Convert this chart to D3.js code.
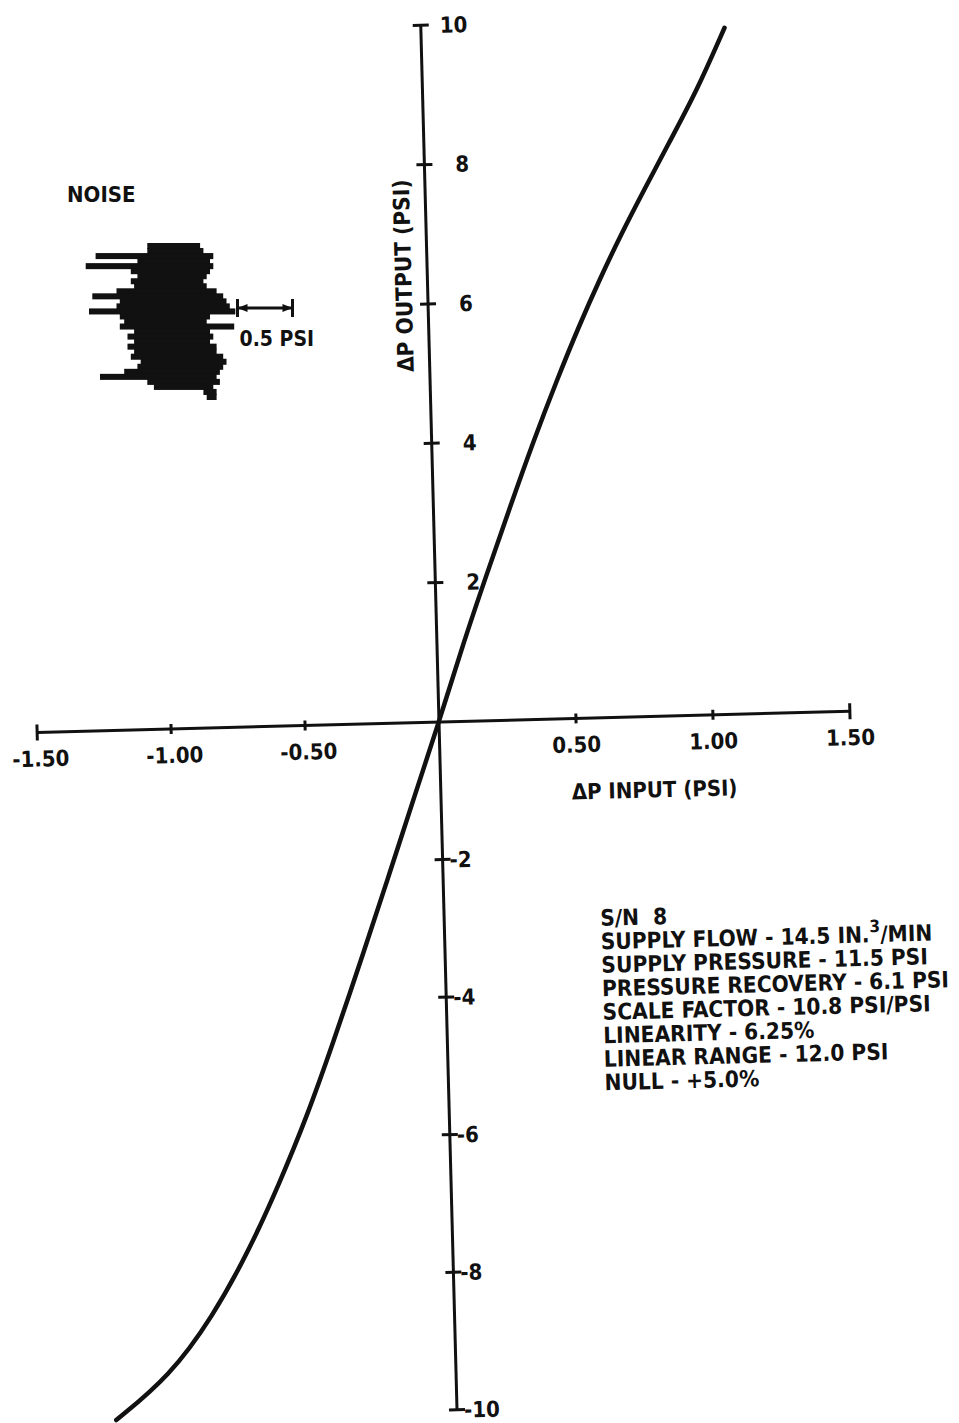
<!DOCTYPE html>
<html>
<head>
<meta charset="utf-8">
<script src="https://cdn.jsdelivr.net/npm/d3@7"></script>
<style>
body{margin:0;background:#fff;}
svg text{font-family:"DejaVu Sans Condensed","DejaVu Sans",sans-serif;font-weight:bold;font-stretch:condensed;fill:#111;white-space:pre;}
</style>
</head>
<body>
<svg id="chart" width="959" height="1423"></svg>
<script>
// axis ticks
var xTicks = [-1.5, -1.0, -0.5, 0.5, 1.0, 1.5];
var yTicks = [10, 8, 6, 4, 2, -2, -4, -6, -8, -10];

// transfer curve (PSI)
var inputPsi  = [-1.272, -1.070, -0.903, -0.759, -0.640, -0.532, -0.430, -0.300, -0.200, -0.100, 0,
                 0.096, 0.190, 0.280, 0.370, 0.465, 0.550, 0.630, 0.710, 0.800, 0.900, 1.000, 1.108];
var outputPsi = [-10.02, -9.41, -8.56, -7.60, -6.64, -5.69, -4.66, -3.28, -2.19, -1.08, 0,
                 1.12, 2.12, 3.06, 3.98, 4.88, 5.64, 6.30, 6.92, 7.56, 8.26, 8.95, 9.85];

// noise trace: low / high excursion of each sweep (PSI)
var noiseLow  = [-0.27,-0.27,-0.74,-0.36,-0.83,-0.42,-0.36,-0.42,-0.39,-0.55,-0.77,-0.52,-0.55,-0.80,-0.52,-0.48,
                 -0.52,-0.39,-0.45,-0.39,-0.45,-0.39,-0.42,-0.33,-0.36,-0.48,-0.70,-0.27,-0.21,0.24,0.27];
var noiseHigh = [0.21,0.24,0.33,0.30,0.33,0.30,0.27,0.24,0.27,0.36,0.42,0.45,0.48,0.53,0.30,0.27,
                 0.52,0.30,0.33,0.30,0.36,0.36,0.42,0.45,0.42,0.39,0.36,0.39,0.33,0.36,0.36];
var noiseScaleBar = [0.55, 1.05];

var noteLines = [
    "S/N  8",
    "SUPPLY FLOW - 14.5 IN.\u00b3/MIN",
    "SUPPLY PRESSURE - 11.5 PSI",
    "PRESSURE RECOVERY - 6.1 PSI",
    "SCALE FACTOR - 10.8 PSI/PSI",
    "LINEARITY - 6.25%",
    "LINEAR RANGE - 12.0 PSI",
    "NULL - +5.0%"
];

var svg = d3.select("#chart");

// the sheet was scanned slightly askew
var g = svg.append("g").attr("transform", "rotate(-1.5,439,722)");

var x = d3.scaleLinear().domain([-1.5, 0, 1.5]).range([37, 439, 850]);
var y = d3.scaleLinear().domain([-10, 0, 10]).range([1410, 722, 25]);

var fmtX = function(d){ return d3.format(".2f")(d).replace("\u2212", "-"); };

// axes
g.append("line")
    .attr("x1", x(-1.5)).attr("x2", x(1.5))
    .attr("y1", y(0)).attr("y2", y(0))
    .attr("stroke", "#111").attr("stroke-width", 3);
g.append("line")
    .attr("x1", x(0)).attr("x2", x(0))
    .attr("y1", y(-10)).attr("y2", y(10))
    .attr("stroke", "#111").attr("stroke-width", 3);

g.selectAll(".xtick").data(xTicks).enter().append("line")
    .attr("class", "xtick")
    .attr("x1", function(d){ return x(d); }).attr("x2", function(d){ return x(d); })
    .attr("y1", function(d){ return y(0) - (Math.abs(d) == 1.5 ? 8 : 5); })
    .attr("y2", function(d){ return y(0) + (Math.abs(d) == 1.5 ? 8 : 5); })
    .attr("stroke", "#111").attr("stroke-width", 3);

g.selectAll(".xlabel").data(xTicks).enter().append("text")
    .attr("class", "xlabel")
    .attr("x", function(d){ return x(d) + (d < 0 ? 3 : 0); })
    .attr("y", y(0) + 34)
    .attr("text-anchor", "middle")
    .attr("font-size", 22)
    .text(fmtX);

g.selectAll(".ytick").data(yTicks).enter().append("line")
    .attr("class", "ytick")
    .attr("x1", x(0) - 8).attr("x2", x(0) + 8)
    .attr("y1", function(d){ return y(d); }).attr("y2", function(d){ return y(d); })
    .attr("stroke", "#111").attr("stroke-width", 3);

g.selectAll(".ylabel").data(yTicks).enter().append("text")
    .attr("class", "ylabel")
    .attr("x", function(d){ return x(0) + (d < 0 ? 7 : (d == 10 ? 19 : 31)); })
    .attr("y", function(d){ return y(d) + 8; })
    .attr("font-size", 22)
    .text(function(d){ return d; });

// axis titles
g.append("text")
    .attr("transform", "translate(" + (x(0) - 16) + "," + (y(10) + 250) + ") rotate(-90)")
    .attr("text-anchor", "middle")
    .attr("font-size", 22.5)
    .text("\u0394P OUTPUT (PSI)");
g.append("text")
    .attr("x", x(0.78)).attr("y", y(0) + 81)
    .attr("text-anchor", "middle")
    .attr("font-size", 22)
    .text("\u0394P INPUT (PSI)");

// transfer curve
var line = d3.line()
    .x(function(d){ return x(d[0]); })
    .y(function(d){ return y(d[1]); })
    .curve(d3.curveBasis);
g.append("path")
    .datum(d3.zip(inputPsi, outputPsi))
    .attr("d", line)
    .attr("fill", "none")
    .attr("stroke", "#111")
    .attr("stroke-width", 4.5)
    .attr("stroke-linecap", "round");

// test conditions
var notes = g.append("text")
    .attr("font-size", 22.5);
noteLines.forEach(function(s, i){
    var parts = s.split("\u00b3");
    notes.append("tspan").attr("x", 595).attr("y", 930 + i * 23.5).text(parts[0]);
    if (parts.length > 1) {
        notes.append("tspan").attr("dy", -10).attr("font-size", 17).text("3");
        notes.append("tspan").attr("dy", 10).text(parts[1]);
    }
});

// noise trace (upper left)
var nx = d3.scaleLinear().domain([0, 1]).range([177, 287]);
var ny = d3.scaleBand().domain(d3.range(noiseLow.length)).range([243, 399]);
var noise = svg.append("g");
noise.selectAll("rect").data(noiseLow).enter().append("rect")
    .attr("x", function(d){ return nx(d); })
    .attr("y", function(d, i){ return ny(i); })
    .attr("width", function(d, i){ return nx(noiseHigh[i]) - nx(d); })
    .attr("height", ny.bandwidth() + 1)
    .attr("fill", "#111");

noise.append("text")
    .attr("x", 67).attr("y", 202)
    .attr("font-size", 22)
    .text("NOISE");

var barY = 308;
noise.append("line")
    .attr("x1", nx(noiseScaleBar[0])).attr("x2", nx(noiseScaleBar[1]))
    .attr("y1", barY).attr("y2", barY)
    .attr("stroke", "#111").attr("stroke-width", 3);
noise.selectAll(".sbend").data(noiseScaleBar).enter().append("line")
    .attr("class", "sbend")
    .attr("x1", function(d){ return nx(d); }).attr("x2", function(d){ return nx(d); })
    .attr("y1", barY - 9).attr("y2", barY + 9)
    .attr("stroke", "#111").attr("stroke-width", 3);
noise.selectAll(".sbarrow").data(noiseScaleBar).enter().append("path")
    .attr("class", "sbarrow")
    .attr("d", function(d, i){
        var px = nx(d), dir = i == 0 ? 1 : -1;
        return "M" + px + "," + barY + "L" + (px + dir * 10) + "," + (barY - 4) + "L" + (px + dir * 10) + "," + (barY + 4) + "Z";
    })
    .attr("fill", "#111");
noise.append("text")
    .attr("x", nx(noiseScaleBar[0]) + 2).attr("y", 346)
    .attr("font-size", 21)
    .text("0.5 PSI");
</script>
</body>
</html>
